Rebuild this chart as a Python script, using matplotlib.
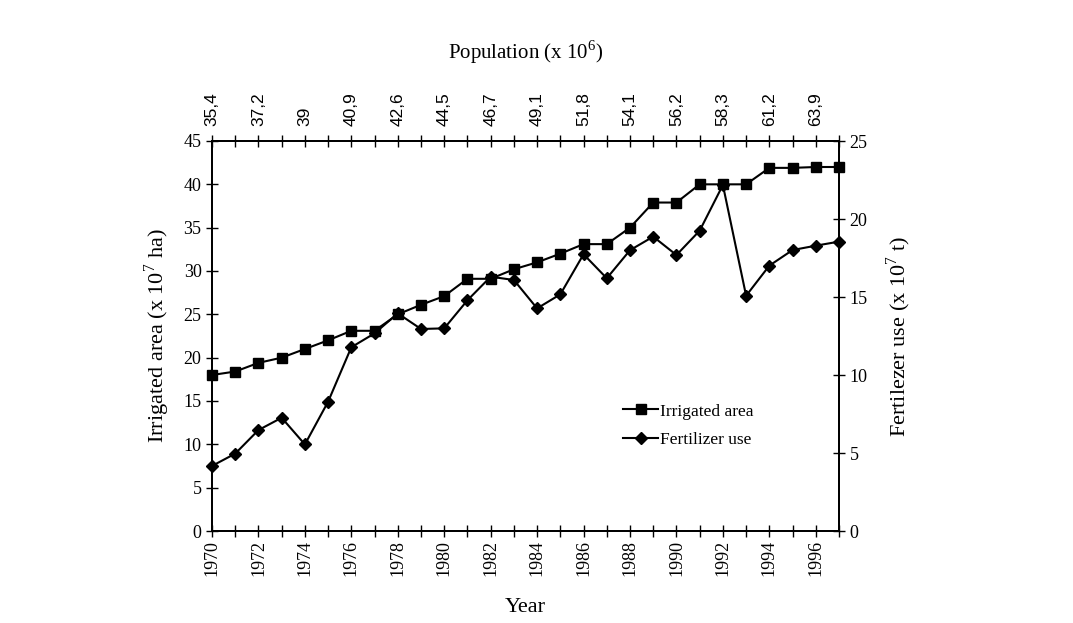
import matplotlib
matplotlib.use("Agg")
import matplotlib.pyplot as plt
from matplotlib.ticker import MultipleLocator, FixedLocator

years = list(range(1970, 1998))
irrigated_area = [18.0, 18.4, 19.4, 20.0, 21.0, 22.0, 23.1, 23.1, 25.0, 26.1,
                  27.1, 29.1, 29.1, 30.2, 31.0, 32.0, 33.1, 33.1, 35.0, 37.9,
                  37.9, 40.0, 40.0, 40.0, 41.9, 41.9, 42.0, 42.0]
fertilizer_use = [4.17, 4.96, 6.47, 7.26, 5.55, 8.29, 11.78, 12.67, 13.95, 12.95,
                  12.99, 14.79, 16.3, 16.09, 14.27, 15.17, 17.74, 16.2, 18.0, 18.87,
                  17.69, 19.25, 22.18, 15.08, 17.01, 18.01, 18.29, 18.55]
label_years = list(range(1970, 1997, 2))
population_labels = ["35,4", "37,2", "39", "40,9", "42,6", "44,5", "46,7",
                     "49,1", "51,8", "54,1", "56,2", "58,3", "61,2", "63,9"]

plt.rcParams['font.family'] = ['Liberation Serif', 'DejaVu Serif']
plt.rcParams['mathtext.fontset'] = 'custom'
plt.rcParams['mathtext.rm'] = 'Liberation Serif'

fig = plt.figure(figsize=(10.73, 6.23), dpi=100)
ax = fig.add_axes([212/1073, 1-531/623, (839-212)/1073, (531-141)/623])
ax2 = ax.twinx()
ax3 = ax.twiny()

l1, = ax.plot(years, irrigated_area, color='black', lw=1.5, marker='s', ms=7.5,
              label='Irrigated area', clip_on=False, zorder=5)
l2, = ax2.plot(years, fertilizer_use, color='black', lw=1.5, marker='D', ms=6.5,
               label='Fertilizer use', clip_on=False, zorder=5)

ax.set_xlim(1970, 1997)
ax.set_ylim(0, 45)
ax2.set_ylim(0, 25)
ax3.set_xlim(1970, 1997)

ax.xaxis.set_major_locator(FixedLocator(label_years))
ax.xaxis.set_minor_locator(MultipleLocator(1))
ax.set_xticklabels([str(y) for y in label_years], rotation=90)
ax.yaxis.set_major_locator(MultipleLocator(5))
ax2.yaxis.set_major_locator(MultipleLocator(5))
ax3.xaxis.set_major_locator(FixedLocator(label_years))
ax3.xaxis.set_minor_locator(MultipleLocator(1))
ax3.set_xticklabels(population_labels, rotation=90, fontfamily='Liberation Sans')

for a in (ax, ax2, ax3):
    a.tick_params(which='both', direction='inout', length=9, width=1)
    for s in a.spines.values():
        s.set_linewidth(1.2)
ax.tick_params(axis='x', which='both', labelsize=13, pad=2)
ax.tick_params(axis='y', labelsize=13, length=9, pad=3)
ax2.tick_params(axis='y', labelsize=13, pad=3)
ax3.tick_params(axis='x', which='both', labelsize=12.5, pad=6)

ax.set_xlabel('Year', fontsize=16, labelpad=16)
ax.set_ylabel('Irrigated area (x 10$^7$ ha)', fontsize=16, labelpad=8)
ax2.set_ylabel('Fertilezer use (x 10$^7$ t)', fontsize=16, labelpad=12)
ax3.set_xlabel('Population (x 10$^6$)', fontsize=15, labelpad=24)

leg = ax.legend(handles=[l1, l2], loc='upper left', bbox_to_anchor=(0.645, 0.345),
                frameon=False, fontsize=12.5, handlelength=2.0, handletextpad=0.1,
                labelspacing=0.7, borderaxespad=0)

fig.savefig('out.png', dpi=100)
